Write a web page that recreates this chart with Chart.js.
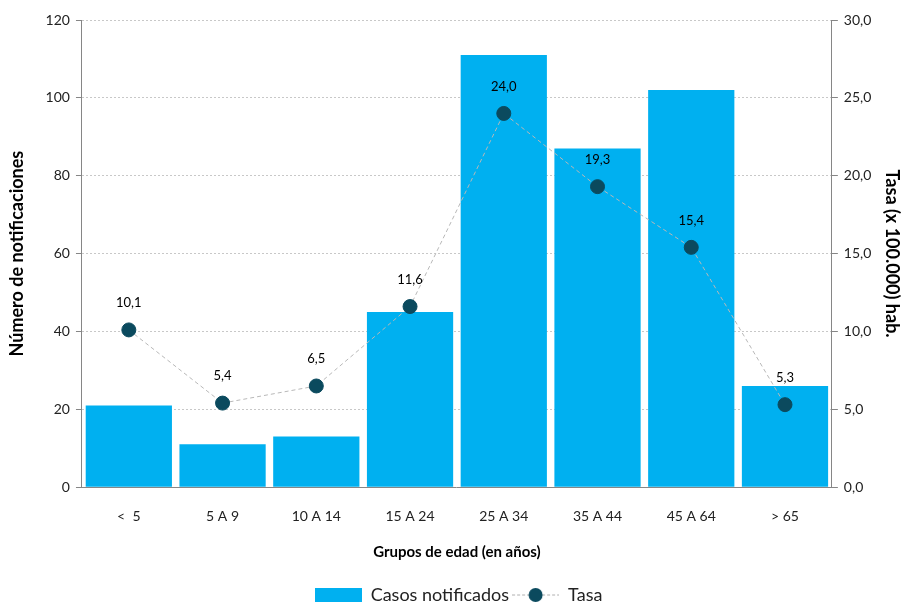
<!DOCTYPE html>
<html>
<head>
<meta charset="utf-8">
<script src="https://cdn.jsdelivr.net/npm/chart.js@4"></script>
<style>
  html, body { margin: 0; padding: 0; background: #fff; }
  #wrap { width: 915px; height: 604px; }
</style>
</head>
<body>
<div id="wrap"><canvas id="chart"></canvas></div>
<script>
const grupos = ["<  5", "5 A 9", "10 A 14", "15 A 24", "25 A 34", "35 A 44", "45 A 64", "> 65"];
const casos = [21, 11, 13, 45, 111, 87, 102, 26];
const tasa = [10.1, 5.4, 6.5, 11.6, 24.0, 19.3, 15.4, 5.3];

const FONT = "Lato, 'Open Sans', sans-serif";
const coma = (v) => v.toFixed(1).replace(".", ",");

// legend swatches
function swatchBar() {
  const c = document.createElement("canvas");
  c.width = 47; c.height = 14;
  const g = c.getContext("2d");
  g.fillStyle = "#00B0F0";
  g.fillRect(0, 0, 47, 14);
  return c;
}
function swatchLine() {
  const c = document.createElement("canvas");
  c.width = 47; c.height = 16;
  const g = c.getContext("2d");
  g.strokeStyle = "#b0b0b0";
  g.setLineDash([3, 2]);
  g.beginPath(); g.moveTo(0, 8); g.lineTo(47, 8); g.stroke();
  g.fillStyle = "#0B4A5E";
  g.beginPath(); g.arc(23.5, 8, 7, 0, Math.PI * 2); g.fill();
  return c;
}

const etiquetas = {
  id: "etiquetas",
  afterDatasetsDraw(chart) {
    const meta = chart.getDatasetMeta(0);
    const ctx = chart.ctx;
    ctx.save();
    ctx.font = "13px " + FONT;
    ctx.fillStyle = "#000";
    ctx.textAlign = "center";
    ctx.textBaseline = "middle";
    meta.data.forEach((p, i) => {
      ctx.fillText(coma(tasa[i]), p.x, p.y - 27);
    });
    ctx.restore();
  }
};

new Chart(document.getElementById("chart"), {
  data: {
    labels: grupos,
    datasets: [
      {
        type: "line",
        label: "Tasa",
        data: tasa,
        yAxisID: "y1",
        borderColor: "#b8b8b8",
        borderWidth: 1,
        borderDash: [4, 3],
        pointRadius: 7,
        pointBackgroundColor: "#0B4A5E",
        pointBorderColor: "#0B4A5E",
        order: 0
      },
      {
        type: "bar",
        label: "Casos notificados",
        data: casos,
        yAxisID: "y",
        backgroundColor: "#00B0F0",
        barPercentage: 0.92,
        categoryPercentage: 1,
        order: 1
      }
    ]
  },
  options: {
    responsive: true,
    maintainAspectRatio: false,
    animation: false,
    layout: { padding: { top: 20, right: 0, left: 2, bottom: -10 } },
    plugins: {
      tooltip: { enabled: false },
      legend: {
        position: "bottom",
        labels: {
          usePointStyle: true,
          pointStyleWidth: 47,
          font: { family: FONT, size: 18 },
          color: "#222",
          padding: 3,
          generateLabels(chart) {
            return [
              { text: "Casos notificados", pointStyle: swatchBar(), datasetIndex: 1, fontColor: "#222" },
              { text: "Tasa", pointStyle: swatchLine(), datasetIndex: 0, fontColor: "#222" }
            ];
          }
        }
      }
    },
    scales: {
      x: {
        grid: { display: false, drawOnChartArea: false, tickLength: 6, offset: true, color: "#868686" },
        border: { color: "#868686" },
        ticks: { font: { family: FONT, size: 14 }, color: "#222", padding: 15 },
        title: {
          display: true,
          text: "Grupos de edad (en años)",
          font: { family: FONT, size: 15, weight: "bold" },
          color: "#000",
          padding: { top: 3, bottom: 22 }
        }
      },
      y: {
        position: "left",
        min: 0, max: 120,
        ticks: { stepSize: 20, font: { family: FONT, size: 14 }, color: "#222", padding: 6 },
        grid: { color: "#c8c8c8", tickLength: 6, tickColor: "#868686" },
        border: { color: "#868686", dash: [2, 2] },
        title: {
          display: true,
          text: "Número de notificaciones",
          font: { family: FONT, size: 18, weight: "bold" },
          color: "#000",
          padding: { bottom: 12 }
        }
      },
      y1: {
        position: "right",
        min: 0, max: 30,
        ticks: { stepSize: 5, font: { family: FONT, size: 14 }, color: "#222", padding: 6, callback: (v) => coma(v) },
        grid: { drawOnChartArea: false, tickLength: 6, color: "#868686" },
        border: { color: "#868686" },
        title: {
          display: true,
          text: "Tasa (x 100.000) hab.",
          font: { family: FONT, size: 18, weight: "bold" },
          color: "#000",
          padding: { top: 12 }
        }
      }
    }
  },
  plugins: [etiquetas]
});
</script>
</body>
</html>
